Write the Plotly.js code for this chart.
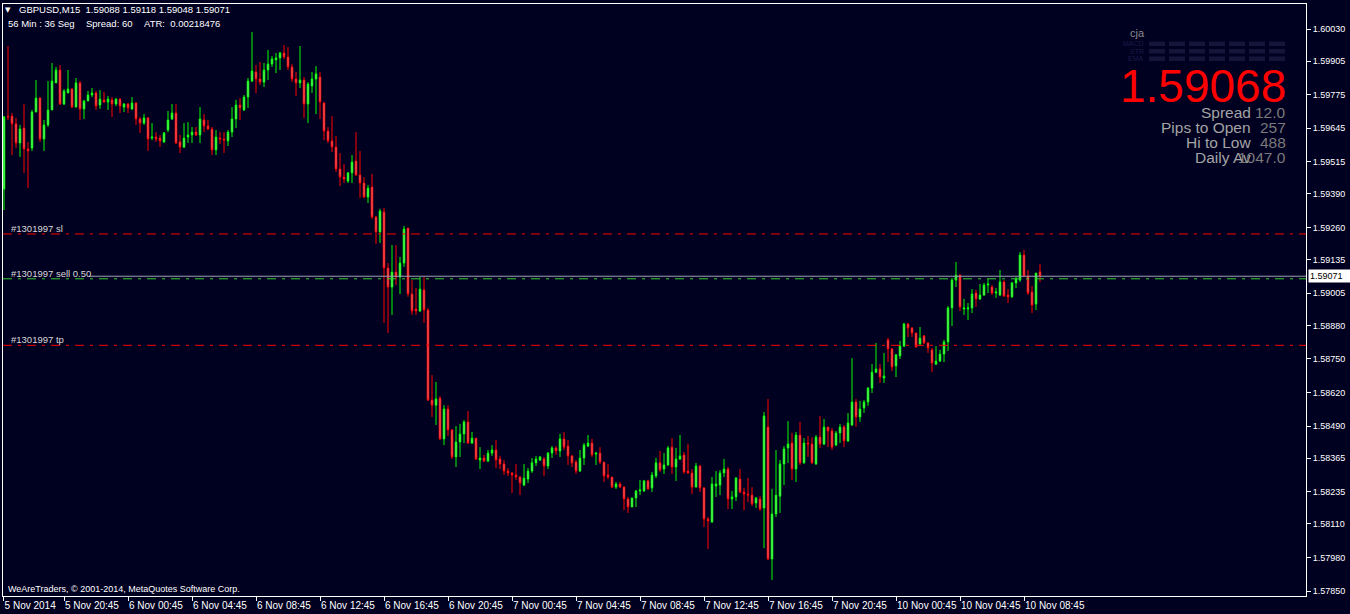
<!DOCTYPE html>
<html>
<head>
<meta charset="utf-8">
<script src="https://cdn.plot.ly/plotly-3.0.1.min.js"></script>
<style>
  html, body { margin: 0; padding: 0; background: #000020; }
  #chart { width: 1350px; height: 614px; }
</style>
</head>
<body>
<div id="chart"></div>
<script>
// ---- GBPUSD M15 candles (bars 1..260) ----
const openP = [
1.59409,1.59692,1.59692,1.59662,1.59588,1.59646,1.59565,1.59568,1.59708,1.59762,
1.59603,1.59658,1.59716,1.59821,1.59871,1.59739,1.59782,1.59797,1.59727,1.59821,
1.59720,1.59751,1.59774,1.59782,1.59735,1.59755,1.59747,1.59755,1.59739,1.59758,
1.59727,1.59739,1.59720,1.59743,1.59681,1.59665,1.59685,1.59607,1.59611,1.59607,
1.59592,1.59638,1.59681,1.59704,1.59592,1.59572,1.59611,1.59619,1.59630,1.59619,
1.59677,1.59654,1.59642,1.59561,1.59607,1.59603,1.59596,1.59630,1.59681,1.59735,
1.59716,1.59766,1.59828,1.59863,1.59836,1.59824,1.59871,1.59894,1.59910,1.59918,
1.59937,1.59921,1.59883,1.59836,1.59821,1.59832,1.59739,1.59809,1.59836,1.59844,
1.59743,1.59634,1.59596,1.59572,1.59487,1.59456,1.59440,1.59472,1.59518,1.59464,
1.59433,1.59378,1.59417,1.59301,1.59243,1.59320,1.59103,1.59029,1.59087,1.59068,
1.59122,1.59258,1.59002,1.58944,1.58936,1.59018,1.58940,1.58591,1.58571,1.58598,
1.58440,1.58556,1.58475,1.58370,1.58428,1.58459,1.58506,1.58424,1.58443,1.58358,
1.58366,1.58354,1.58385,1.58397,1.58362,1.58343,1.58315,1.58308,1.58300,1.58292,
1.58261,1.58284,1.58315,1.58347,1.58358,1.58362,1.58335,1.58385,1.58405,1.58393,
1.58440,1.58412,1.58374,1.58350,1.58315,1.58366,1.58412,1.58424,1.58381,1.58385,
1.58350,1.58300,1.58292,1.58253,1.58265,1.58253,1.58207,1.58176,1.58211,1.58238,
1.58238,1.58277,1.58250,1.58296,1.58347,1.58323,1.58339,1.58408,1.58331,1.58362,
1.58378,1.58315,1.58308,1.58253,1.58335,1.58250,1.58129,1.58118,1.58257,1.58261,
1.58308,1.58323,1.58207,1.58215,1.58284,1.58234,1.58226,1.58222,1.58191,1.58207,
1.58172,1.58486,1.57974,1.58149,1.58218,1.58343,1.58405,1.58424,1.58323,1.58455,
1.58347,1.58424,1.58420,1.58343,1.58447,1.58420,1.58486,1.58471,1.58416,1.58463,
1.58486,1.58432,1.58494,1.58583,1.58525,1.58560,1.58583,1.58637,1.58699,1.58711,
1.58676,1.58824,1.58789,1.58723,1.58762,1.58800,1.58886,1.58870,1.58851,1.58808,
1.58839,1.58812,1.58785,1.58730,1.58742,1.58769,1.58816,1.58948,1.59056,1.59075,
1.58944,1.58944,1.58948,1.59006,1.58983,1.58998,1.59037,1.59029,1.59006,1.58998,
1.59049,1.58998,1.58991,1.59045,1.59056,1.59153,1.59072,1.59010,1.58963,1.59088];

const highP = [
1.59692,1.59964,1.59704,1.59685,1.59658,1.59739,1.59592,1.59716,1.59832,1.59766,
1.59677,1.59828,1.59898,1.59883,1.59890,1.59797,1.59871,1.59801,1.59840,1.59828,
1.59755,1.59790,1.59801,1.59790,1.59793,1.59786,1.59770,1.59766,1.59762,1.59762,
1.59743,1.59743,1.59766,1.59747,1.59689,1.59700,1.59689,1.59665,1.59630,1.59619,
1.59630,1.59712,1.59739,1.59739,1.59619,1.59665,1.59669,1.59650,1.59650,1.59727,
1.59700,1.59677,1.59650,1.59638,1.59630,1.59630,1.59638,1.59727,1.59755,1.59762,
1.59774,1.59840,1.60018,1.59890,1.59902,1.59898,1.59949,1.59925,1.59937,1.59941,
1.59968,1.59960,1.59894,1.59863,1.59964,1.59844,1.59824,1.59863,1.59886,1.59863,
1.59747,1.59650,1.59692,1.59615,1.59549,1.59506,1.59475,1.59541,1.59630,1.59557,
1.59456,1.59425,1.59468,1.59305,1.59332,1.59336,1.59122,1.59192,1.59192,1.59146,
1.59266,1.59258,1.59056,1.59025,1.59068,1.59068,1.58948,1.58688,1.58661,1.58606,
1.58571,1.58571,1.58478,1.58490,1.58498,1.58513,1.58548,1.58467,1.58443,1.58408,
1.58378,1.58397,1.58416,1.58436,1.58374,1.58358,1.58327,1.58312,1.58343,1.58296,
1.58343,1.58327,1.58366,1.58374,1.58374,1.58370,1.58389,1.58412,1.58412,1.58459,
1.58467,1.58436,1.58378,1.58358,1.58397,1.58424,1.58455,1.58440,1.58389,1.58408,
1.58350,1.58343,1.58292,1.58273,1.58273,1.58257,1.58215,1.58211,1.58242,1.58281,
1.58281,1.58281,1.58312,1.58366,1.58393,1.58385,1.58412,1.58443,1.58405,1.58455,
1.58389,1.58420,1.58323,1.58347,1.58339,1.58253,1.58137,1.58292,1.58315,1.58319,
1.58362,1.58331,1.58238,1.58292,1.58323,1.58250,1.58288,1.58253,1.58215,1.58218,
1.58544,1.58595,1.58246,1.58397,1.58358,1.58412,1.58509,1.58463,1.58467,1.58506,
1.58443,1.58451,1.58447,1.58455,1.58529,1.58517,1.58486,1.58482,1.58471,1.58498,
1.58494,1.58540,1.58753,1.58595,1.58587,1.58591,1.58641,1.58730,1.58812,1.58730,
1.58773,1.58832,1.58793,1.58769,1.58820,1.58890,1.58890,1.58874,1.58851,1.58874,
1.58843,1.58816,1.58793,1.58800,1.58785,1.58824,1.58955,1.59064,1.59126,1.59079,
1.58983,1.58967,1.59021,1.59018,1.59041,1.59045,1.59060,1.59037,1.59025,1.59095,
1.59056,1.59021,1.59049,1.59068,1.59165,1.59173,1.59095,1.59033,1.59083,1.59118];

const lowP = [
1.59328,1.59677,1.59541,1.59568,1.59534,1.59472,1.59413,1.59557,1.59708,1.59592,
1.59557,1.59650,1.59716,1.59821,1.59735,1.59735,1.59782,1.59724,1.59727,1.59677,
1.59681,1.59751,1.59766,1.59716,1.59720,1.59743,1.59716,1.59689,1.59731,1.59704,
1.59708,1.59704,1.59716,1.59658,1.59627,1.59658,1.59557,1.59599,1.59592,1.59572,
1.59588,1.59630,1.59677,1.59584,1.59549,1.59568,1.59588,1.59588,1.59615,1.59588,
1.59630,1.59638,1.59541,1.59541,1.59584,1.59549,1.59576,1.59611,1.59646,1.59677,
1.59712,1.59724,1.59824,1.59782,1.59813,1.59805,1.59832,1.59883,1.59859,1.59871,
1.59914,1.59871,1.59824,1.59770,1.59801,1.59685,1.59665,1.59782,1.59700,1.59681,
1.59599,1.59588,1.59553,1.59475,1.59421,1.59433,1.59433,1.59433,1.59460,1.59375,
1.59375,1.59355,1.59293,1.59196,1.59200,1.58890,1.58851,1.58921,1.59037,1.59002,
1.59107,1.58991,1.58921,1.58921,1.58932,1.58890,1.58587,1.58525,1.58494,1.58436,
1.58416,1.58451,1.58362,1.58331,1.58370,1.58424,1.58420,1.58420,1.58358,1.58323,
1.58350,1.58350,1.58374,1.58327,1.58323,1.58300,1.58296,1.58230,1.58281,1.58222,
1.58257,1.58269,1.58308,1.58335,1.58354,1.58296,1.58323,1.58366,1.58378,1.58370,
1.58397,1.58339,1.58331,1.58304,1.58312,1.58339,1.58408,1.58370,1.58339,1.58343,
1.58273,1.58284,1.58250,1.58246,1.58250,1.58164,1.58153,1.58176,1.58176,1.58222,
1.58234,1.58242,1.58234,1.58288,1.58312,1.58304,1.58335,1.58304,1.58277,1.58358,
1.58304,1.58304,1.58226,1.58253,1.58234,1.58098,1.58013,1.58114,1.58215,1.58222,
1.58292,1.58168,1.58168,1.58199,1.58230,1.58164,1.58195,1.58180,1.58172,1.58160,
1.58016,1.57970,1.57893,1.58137,1.58153,1.58261,1.58347,1.58281,1.58273,1.58339,
1.58343,1.58370,1.58343,1.58339,1.58405,1.58416,1.58408,1.58397,1.58412,1.58424,
1.58408,1.58428,1.58490,1.58486,1.58506,1.58541,1.58568,1.58618,1.58695,1.58657,
1.58657,1.58738,1.58703,1.58680,1.58750,1.58796,1.58835,1.58835,1.58796,1.58800,
1.58808,1.58773,1.58699,1.58727,1.58738,1.58738,1.58781,1.58878,1.59029,1.58936,
1.58921,1.58901,1.58928,1.58952,1.58979,1.58994,1.59006,1.58998,1.58987,1.58994,
1.58991,1.58967,1.58987,1.59025,1.59049,1.59068,1.58998,1.58928,1.58940,1.59048];

const closeP = [
1.59689,1.59689,1.59662,1.59588,1.59642,1.59565,1.59557,1.59708,1.59762,1.59603,
1.59658,1.59716,1.59828,1.59871,1.59739,1.59790,1.59797,1.59727,1.59821,1.59720,
1.59751,1.59774,1.59782,1.59731,1.59758,1.59747,1.59758,1.59739,1.59758,1.59731,
1.59739,1.59724,1.59743,1.59681,1.59665,1.59685,1.59603,1.59611,1.59603,1.59596,
1.59627,1.59677,1.59704,1.59588,1.59572,1.59607,1.59619,1.59630,1.59619,1.59681,
1.59654,1.59642,1.59561,1.59611,1.59603,1.59599,1.59630,1.59681,1.59735,1.59724,
1.59766,1.59828,1.59867,1.59836,1.59824,1.59871,1.59894,1.59914,1.59918,1.59937,
1.59921,1.59883,1.59836,1.59821,1.59832,1.59739,1.59817,1.59836,1.59856,1.59747,
1.59634,1.59596,1.59572,1.59487,1.59456,1.59448,1.59472,1.59514,1.59464,1.59433,
1.59378,1.59413,1.59301,1.59243,1.59324,1.59103,1.59029,1.59087,1.59068,1.59122,
1.59254,1.59002,1.58936,1.58936,1.59021,1.58940,1.58591,1.58571,1.58595,1.58440,
1.58556,1.58475,1.58370,1.58428,1.58459,1.58506,1.58424,1.58443,1.58362,1.58366,
1.58354,1.58385,1.58397,1.58358,1.58343,1.58315,1.58308,1.58300,1.58292,1.58269,
1.58288,1.58315,1.58347,1.58362,1.58370,1.58335,1.58385,1.58405,1.58393,1.58440,
1.58408,1.58374,1.58347,1.58315,1.58366,1.58416,1.58424,1.58378,1.58385,1.58350,
1.58296,1.58292,1.58253,1.58265,1.58253,1.58207,1.58176,1.58211,1.58238,1.58242,
1.58277,1.58246,1.58300,1.58347,1.58319,1.58339,1.58405,1.58331,1.58362,1.58374,
1.58312,1.58308,1.58253,1.58335,1.58250,1.58129,1.58122,1.58265,1.58265,1.58308,
1.58323,1.58207,1.58215,1.58288,1.58234,1.58226,1.58222,1.58188,1.58211,1.58168,
1.58529,1.57974,1.58149,1.58222,1.58343,1.58401,1.58420,1.58323,1.58455,1.58347,
1.58424,1.58420,1.58347,1.58447,1.58420,1.58486,1.58471,1.58408,1.58463,1.58486,
1.58432,1.58502,1.58583,1.58525,1.58556,1.58583,1.58637,1.58699,1.58711,1.58680,
1.58684,1.58789,1.58719,1.58766,1.58800,1.58886,1.58870,1.58851,1.58796,1.58831,
1.58812,1.58793,1.58734,1.58742,1.58769,1.58816,1.58948,1.59056,1.59075,1.58952,
1.58948,1.58948,1.59002,1.58983,1.58998,1.59037,1.59041,1.59006,1.59010,1.59049,
1.58994,1.58991,1.59045,1.59060,1.59153,1.59072,1.59006,1.58959,1.59083,1.59071];

// time axis labels (bar index -> label)
const timeTickBars = [0.9, 16, 32, 48, 64, 80, 96, 112, 128, 144, 160, 176, 192, 208, 224, 240, 256];
const timeTickLabels = ["5 Nov 2014","5 Nov 20:45","6 Nov 00:45","6 Nov 04:45","6 Nov 08:45","6 Nov 12:45",
  "6 Nov 16:45","6 Nov 20:45","7 Nov 00:45","7 Nov 04:45","7 Nov 08:45","7 Nov 12:45","7 Nov 16:45",
  "7 Nov 20:45","10 Nov 00:45","10 Nov 04:45","10 Nov 08:45"];
const priceTicks = [1.60030,1.59905,1.59775,1.59645,1.59515,1.59390,1.59260,1.59135,1.59005,
  1.58880,1.58750,1.58620,1.58490,1.58365,1.58235,1.58110,1.57980,1.57850];

// order levels
const orderSL = 1.59235;
const orderOpen = 1.59061;
const orderTP = 1.58803;
const bidPrice = 1.59071;

// info panel
const panelPrice = "1.59068";
const panelLabels = ["Spread", "Pips to Open", "Hi to Low", "Daily Av"];
const panelValues = ["12.0", "257", "488", "1047.0"];
const panelRows = ["MACD", "STR", "EMA"];

// ---- layout geometry (pixels) ----
const W = 1350, H = 614;
const L = 3, R = 1306, T = 4, B = 596;
const px = x => (x - L) / (R - L);
const py = y => (B - y) / (B - T);
const BG = '#000020';
const FONT = 'Liberation Sans, Arial, DejaVu Sans, sans-serif';

const bars = openP.map((_, i) => i + 1);
const n = closeP.length - 1;

const trace = {
  type: 'candlestick',
  x: bars, open: openP, high: highP, low: lowP, close: closeP,
  increasing: { line: { color: '#00ff00', width: 1 }, fillcolor: '#ffffff' },
  decreasing: { line: { color: '#ff0000', width: 1 }, fillcolor: '#ffffff' },
  whiskerwidth: 0,
  hoverinfo: 'skip'
};

const ann = [];
function txt(text, x, y, o) {
  o = o || {};
  ann.push({
    text: text, xref: 'paper', yref: 'paper', x: px(x), y: py(y),
    xanchor: o.xanchor || 'left', yanchor: 'middle', showarrow: false,
    font: { family: o.family || FONT, size: o.size || 9.5, color: o.color || '#ffffff' },
    borderpad: 0
  });
}
const nb = '\u00a0';
txt('\u25BC', 8, 9.5, { xanchor: 'center', size: 7, family: 'DejaVu Sans' });
txt('GBPUSD,M15' + nb + nb + openP[n].toFixed(5) + nb + highP[n].toFixed(5) + nb + lowP[n].toFixed(5) + nb + closeP[n].toFixed(5), 18, 10);
txt('56 Min : 36 Seg', 7, 23);
txt('Spread: 60', 85, 23);
txt('ATR:' + nb + nb + '0.00218476', 143, 23);
txt('#1301997 sl', 10, 228, { color: '#d8d8d8' });
txt('#1301997 sell 0.50', 10, 273, { color: '#d8d8d8' });
txt('#1301997 tp', 10, 339, { color: '#d8d8d8' });
txt('WeAreTraders, \u00a9 2001-2014, MetaQuotes Software Corp.', 7, 589, { size: 9 });

// panel
txt('cja', 1137, 33, { xanchor: 'center', size: 11, color: '#8c8c8c' });
const rowY = [43.5, 51, 58.5];
panelRows.forEach((r, i) => txt(r, 1145, rowY[i], { xanchor: 'right', size: 7, color: '#1c1c48' }));
txt(panelPrice, 1287, 86, { xanchor: 'right', size: 46, color: '#ff0000' });
const labY = [113, 128, 143, 158];
panelLabels.forEach((s, i) => txt(s, 1252, labY[i], { xanchor: 'right', size: 15.5, color: '#a4a4a4' }));
panelValues.forEach((s, i) => txt(s, 1287, labY[i], { xanchor: 'right', size: 15.5, color: '#7a7a7a' }));

// bid label on price axis
ann.push({
  text: bidPrice.toFixed(5), xref: 'paper', yref: 'y', x: px(1308), y: bidPrice,
  xanchor: 'left', yanchor: 'middle', showarrow: false, bgcolor: '#ffffff',
  width: 40, align: 'left', borderpad: 1,
  font: { family: FONT, size: 9, color: '#000000' }
});

const shapes = [];
const dashP = '9px,6px,3px,6px';
shapes.push({ type: 'line', xref: 'paper', yref: 'y', x0: 0, x1: 1, y0: orderSL, y1: orderSL, line: { color: '#ff0000', width: 1, dash: dashP } });
shapes.push({ type: 'line', xref: 'paper', yref: 'y', x0: 0, x1: 1, y0: orderTP, y1: orderTP, line: { color: '#ff0000', width: 1, dash: dashP } });
shapes.push({ type: 'line', xref: 'paper', yref: 'y', x0: 0, x1: 1, y0: orderOpen, y1: orderOpen, line: { color: '#32cd32', width: 1, dash: dashP } });
shapes.push({ type: 'line', xref: 'paper', yref: 'y', x0: px(89), x1: 1, y0: bidPrice, y1: bidPrice, line: { color: '#a0a0b4', width: 1 } });
// panel blocks
const blockX = [1149, 1169, 1189, 1209, 1229, 1249, 1269];
const blockY = [41.5, 49, 56.5];
blockY.forEach(yy => blockX.forEach(xx => shapes.push({
  type: 'rect', xref: 'paper', yref: 'paper', x0: px(xx), x1: px(xx + 16), y0: py(yy), y1: py(yy + 4.5),
  fillcolor: '#15153a', line: { width: 0 }, layer: 'below'
})));

const layout = {
  width: W, height: H,
  margin: { l: L, r: W - R, t: T, b: H - B, pad: 0 },
  paper_bgcolor: BG, plot_bgcolor: BG,
  showlegend: false,
  boxgap: 0.45,
  xaxis: {
    range: [0.75, 326.5], fixedrange: true,
    rangeslider: { visible: false },
    tickmode: 'array', tickvals: timeTickBars, ticktext: timeTickLabels,
    ticks: 'outside', ticklen: 4, tickcolor: '#ffffff', tickwidth: 1,
    ticklabelposition: 'outside right', tickangle: 0, ticklabelstandoff: 0,
    tickfont: { family: FONT, size: 10, color: '#ffffff' },
    showgrid: false, zeroline: false,
    showline: true, linecolor: '#ffffff', linewidth: 1, mirror: true
  },
  yaxis: {
    side: 'right', range: [1.578306, 1.60127], fixedrange: true,
    tickmode: 'array', tickvals: priceTicks, tickformat: '.5f',
    ticks: 'outside', ticklen: 4, tickcolor: '#ffffff', tickwidth: 1,
    tickfont: { family: FONT, size: 9, color: '#ffffff' },
    showgrid: false, zeroline: false,
    showline: true, linecolor: '#ffffff', linewidth: 1, mirror: true
  },
  annotations: ann,
  shapes: shapes
};

Plotly.newPlot('chart', [trace], layout, { displayModeBar: false, staticPlot: true });
</script>
</body>
</html>
